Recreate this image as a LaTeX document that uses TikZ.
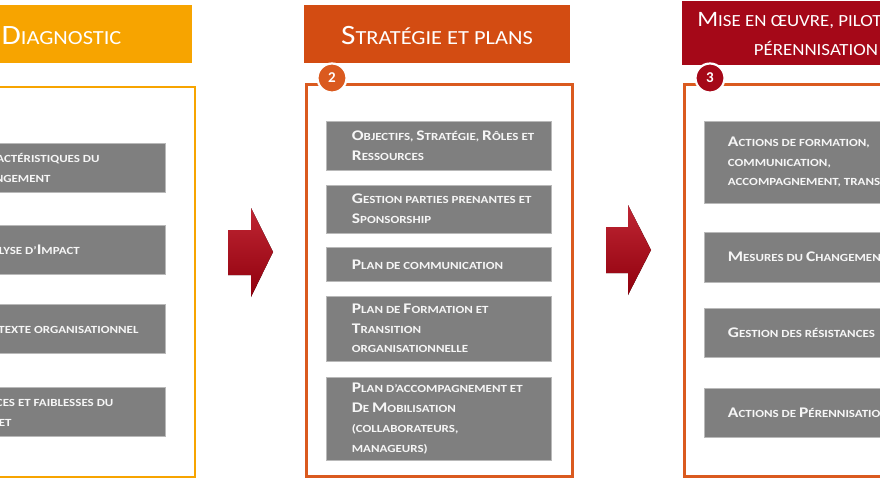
\documentclass[tikz,border=0pt]{standalone}
\usepackage{fontspec}
\setmainfont{Carlito}
\newfontfamily\boxf[FakeStretch=1.19]{Carlito}
\newfontfamily\hdrf[FakeStretch=1.12]{Carlito}
\newfontfamily\hdrg[FakeStretch=1.11]{Carlito}
\usetikzlibrary{calc}
\definecolor{orA}{RGB}{247,164,0}
\definecolor{orB}{RGB}{211,76,18}
\definecolor{frB}{RGB}{218,90,31}
\definecolor{rdC}{RGB}{165,8,24}
\definecolor{grbox}{RGB}{127,127,127}
\definecolor{txt}{RGB}{246,246,246}
\definecolor{arr}{RGB}{180,0,16}
\newcommand\C[1]{{\fontsize{14.7}{19.7}\selectfont #1}}
\newcommand\HC[1]{{\fontsize{28}{29}\selectfont #1}}
\newcommand\HD[1]{{\fontsize{22}{29}\selectfont #1}}
\tikzset{
  hdr/.style={fill=#1, draw=none, minimum width=266pt, minimum height=58pt, inner sep=0pt, text=white, align=center},
  frm/.style={draw=#1, line width=2.4pt, fill=white, minimum width=266pt, inner sep=0pt},
  gbox/.style={fill=grbox, draw=gray!55, line width=0.6pt, inner sep=0pt},
  gtxt/.style={anchor=west, inner sep=0pt, text=txt, align=left, font=\boxf\fontsize{10.9}{19.7}\selectfont\bfseries},
  badge/.style={circle, fill=#1, draw=white, line width=2.2pt, minimum size=29pt, inner sep=0pt, text=white, font=\fontsize{15}{15}\selectfont\bfseries},
  arrshape/.style={draw=none, top color=arr!85!white, bottom color=arr!80!black}
}
\begin{document}
\begin{tikzpicture}[x=1pt,y=-1pt]
\useasboundingbox (0,0) rectangle (880,480);
\clip (0,0) rectangle (880,480);
% ---------- column 1
\node[hdr=orA] (h1) at (59,34) {};
\node[text=white, inner sep=0pt, font=\hdrf\fontsize{20}{24}\selectfont] (h1t) at (61.5,36) {\HC{D}IAGNOSTIC};
\node[frm=orA, minimum height=390pt] (f1) at (62,282) {};
\node[gbox, minimum width=219pt, minimum height=49pt] (a1) at (55.5,167.5) {};
\node[gbox, minimum width=219pt, minimum height=49pt] (a2) at (55.5,249.5) {};
\node[gbox, minimum width=219pt, minimum height=49pt] (a3) at (55.5,328.5) {};
\node[gbox, minimum width=219pt, minimum height=49pt] (a4) at (55.5,411.5) {};
\node[gtxt] at ($(a1.west)+(26,0)$) {\C{C}ARACTÉRISTIQUES DU\\CHANGEMENT};
\node[gtxt] at ($(a2.west)+(26,0)$) {\C{A}NALYSE D’\C{I}MPACT};
\node[gtxt] at ($(a3.west)+(26,0)$) {\C{C}ONTEXTE ORGANISATIONNEL};
\node[gtxt] at ($(a4.west)+(26,0)$) {\C{F}ORCES ET FAIBLESSES DU\\PROJET};
% ---------- column 2
\node[hdr=orB] (h2) at (437,34) {};
\node[text=white, inner sep=0pt, font=\hdrf\fontsize{20}{24}\selectfont] (h2t) at (437,36) {\HC{S}TRATÉGIE ET PLANS};
\node[frm=frB, minimum height=392pt] (f2) at (439.5,280.5) {};
\node[badge=frB] (n2) at (332,78) {2};
\node[gbox, minimum width=225pt, minimum height=49pt] (b1) at (438.5,145.5) {};
\node[gbox, minimum width=225pt, minimum height=48pt] (b2) at (438.5,209) {};
\node[gbox, minimum width=225pt, minimum height=34pt] (b3) at (438.5,264.5) {};
\node[gbox, minimum width=225pt, minimum height=65pt] (b4) at (438.5,328.5) {};
\node[gbox, minimum width=225pt, minimum height=83pt] (b5) at (438.5,418.5) {};
\node[gtxt] at ($(b1.west)+(26,0)$) {\C{O}BJECTIFS, \C{S}TRATÉGIE, \C{R}ÔLES ET\\\C{R}ESSOURCES};
\node[gtxt] at ($(b2.west)+(26,0)$) {\C{G}ESTION PARTIES PRENANTES ET\\\C{S}PONSORSHIP};
\node[gtxt] at ($(b3.west)+(26,0)$) {\C{P}LAN DE COMMUNICATION};
\node[gtxt] at ($(b4.west)+(26,0)$) {\C{P}LAN DE \C{F}ORMATION ET\\\C{T}RANSITION\\ORGANISATIONNELLE};
\node[gtxt] at ($(b5.west)+(26,0)$) {\C{P}LAN D’ACCOMPAGNEMENT ET\\\C{D}E \C{M}OBILISATION\\(COLLABORATEURS,\\MANAGEURS)};
% ---------- column 3
\node[hdr=rdC, minimum height=64pt] (h3) at (815,33) {};
\node[text=white, inner sep=0pt, align=center, font=\hdrg\fontsize{17}{29}\selectfont] (h3t) at (816,34) {\HD{M}ISE EN ŒUVRE, PILOTAGE ET\\PÉRENNISATION};
\node[frm=frB, minimum height=392pt] (f3) at (817.5,280.5) {};
\node[badge=rdC] (n3) at (710,78) {3};
\node[gbox, minimum width=225pt, minimum height=82pt] (c1) at (816.5,162) {};
\node[gbox, minimum width=225pt, minimum height=50pt] (c2) at (816.5,257) {};
\node[gbox, minimum width=225pt, minimum height=49pt] (c3) at (816.5,332.5) {};
\node[gbox, minimum width=225pt, minimum height=49pt] (c4) at (816.5,412.5) {};
\node[gtxt] at ($(c1.west)+(24,0)$) {\C{A}CTIONS DE FORMATION,\\COMMUNICATION,\\ACCOMPAGNEMENT, TRANSITION};
\node[gtxt] at ($(c2.west)+(24,0)$) {\C{M}ESURES DU \C{C}HANGEMENT};
\node[gtxt] at ($(c3.west)+(24,0)$) {\C{G}ESTION DES RÉSISTANCES};
\node[gtxt] at ($(c4.west)+(24,0)$) {\C{A}CTIONS DE \C{P}ÉRENNISATION};
% ---------- arrows
\fill[arrshape] (228,230) -- (251,230) -- (251,208) -- (273,252) -- (251,297) -- (251,275) -- (228,275) -- cycle;
\fill[arrshape] (606,227) -- (628,227) -- (628,205) -- (651,250) -- (628,295) -- (628,273) -- (606,273) -- cycle;
\end{tikzpicture}
\end{document}
